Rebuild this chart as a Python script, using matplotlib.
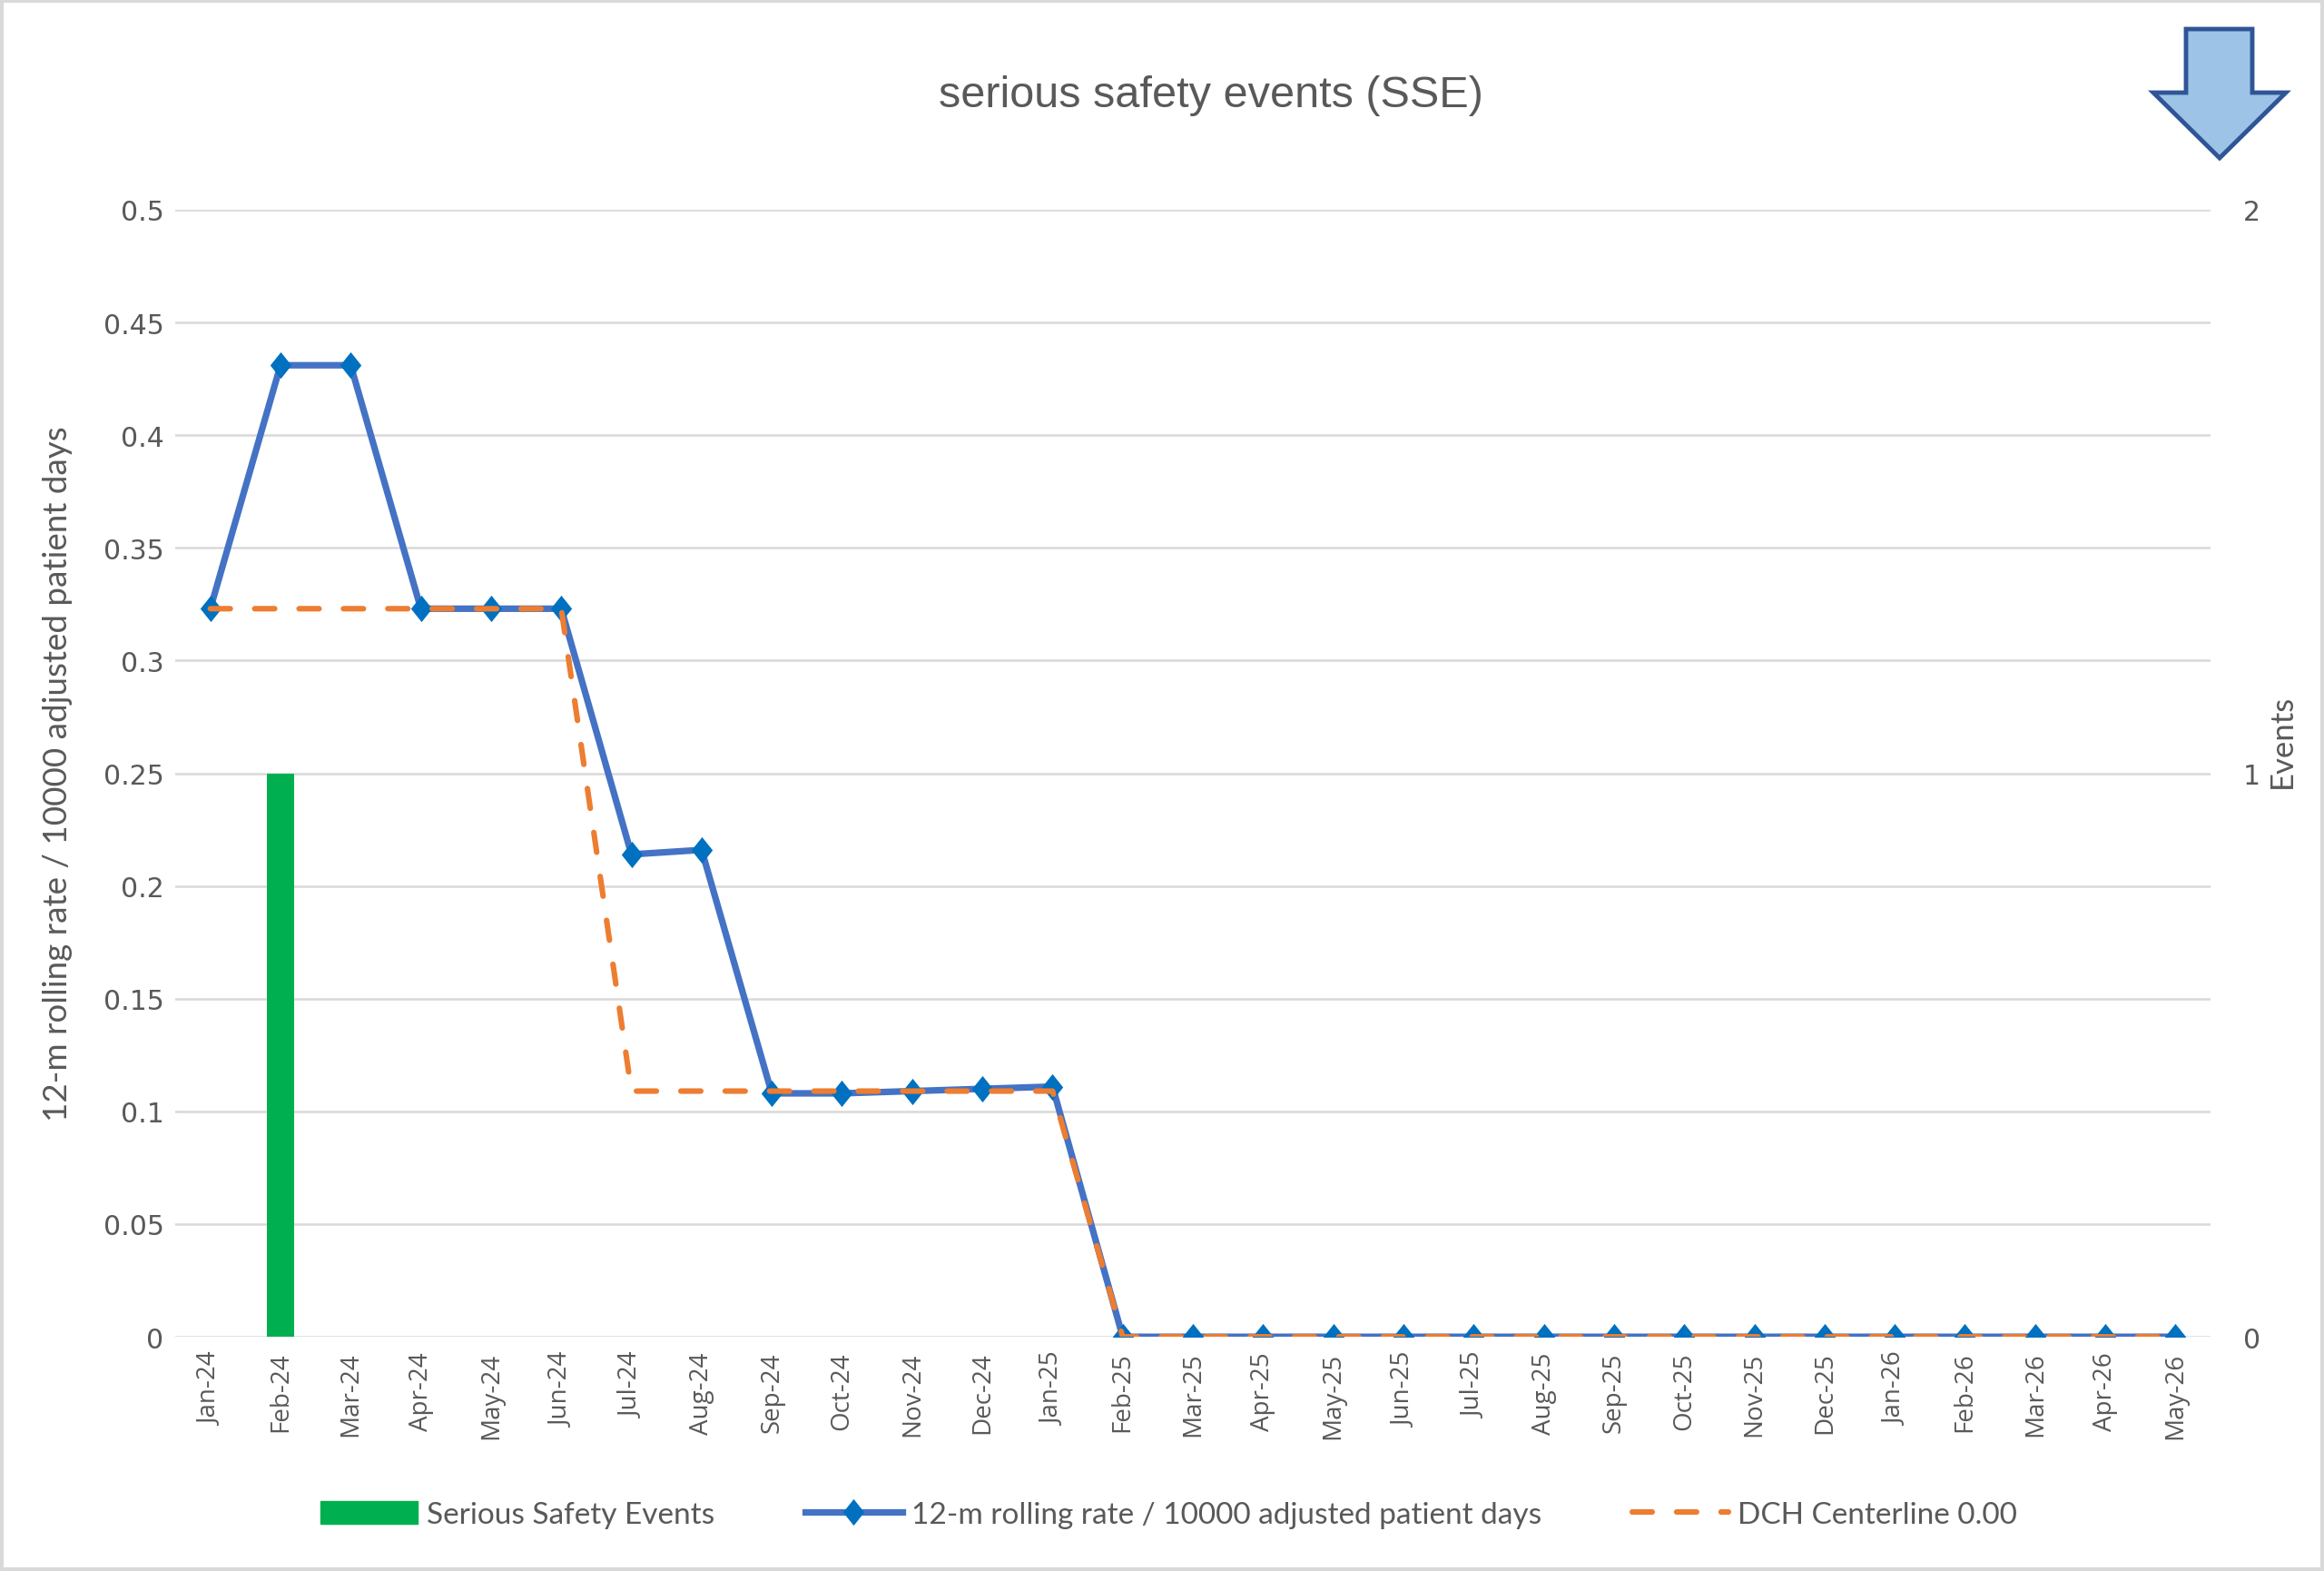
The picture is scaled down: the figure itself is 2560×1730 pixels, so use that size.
import matplotlib
matplotlib.use("Agg")
import matplotlib.pyplot as plt
from matplotlib.patches import Polygon, Rectangle
from matplotlib.lines import Line2D
from matplotlib.patches import Patch

months = ["Jan-24", "Feb-24", "Mar-24", "Apr-24", "May-24", "Jun-24", "Jul-24", "Aug-24",
          "Sep-24", "Oct-24", "Nov-24", "Dec-24", "Jan-25", "Feb-25", "Mar-25", "Apr-25",
          "May-25", "Jun-25", "Jul-25", "Aug-25", "Sep-25", "Oct-25", "Nov-25", "Dec-25",
          "Jan-26", "Feb-26", "Mar-26", "Apr-26", "May-26"]
events = [0, 1, 0, 0, 0, 0, 0, 0, 0, 0, 0, 0, 0, 0, 0, 0, 0, 0, 0, 0, 0, 0, 0, 0, 0, 0, 0, 0, 0]
rate = [0.323, 0.431, 0.431, 0.323, 0.323, 0.323, 0.214, 0.216, 0.108, 0.108, 0.109, 0.110,
        0.111, 0, 0, 0, 0, 0, 0, 0, 0, 0, 0, 0, 0, 0, 0, 0, 0]
centerline = [0.323, 0.323, 0.323, 0.323, 0.323, 0.323, 0.109, 0.109, 0.109, 0.109, 0.109, 0.109,
              0.109, 0, 0, 0, 0, 0, 0, 0, 0, 0, 0, 0, 0, 0, 0, 0, 0]
left_ticks = [0, 0.05, 0.1, 0.15, 0.2, 0.25, 0.3, 0.35, 0.4, 0.45, 0.5]
left_tick_labels = ["0", "0.05", "0.1", "0.15", "0.2", "0.25", "0.3", "0.35", "0.4", "0.45", "0.5"]
right_ticks = [0, 1, 2]

title = "serious safety events (SSE)"
ylabel_left = "12-m rolling rate / 10000 adjusted patient days"
ylabel_right = "Events"
legend_labels = ["Serious Safety Events", "12-m rolling rate / 10000 adjusted patient days",
                 "DCH Centerline 0.00"]

GREY = "#595959"
GRID = "#D9D9D9"
BLUE = "#4472C4"
MARK = "#0070C0"
ORANGE = "#ED7D31"
GREEN = "#00B050"

plt.rcParams["font.family"] = ["Lato", "DejaVu Sans"]

DIAMOND = [(0, 1), (0.8, 0), (0, -1), (-0.8, 0), (0, 1)]
LINE_KW = dict(color=BLUE, lw=5.2, marker=DIAMOND, markersize=21, markeredgewidth=0,
               markerfacecolor=MARK, markeredgecolor=MARK)
DASH_KW = dict(color=ORANGE, lw=4.4, linestyle=(0, (3.6, 4.4)), dash_capstyle="round")

fig = plt.figure(figsize=(25.6, 17.31), dpi=100)
ax = fig.add_axes([0.0754, 0.149, 0.8758, 0.717])
ax2 = ax.twinx()

x = list(range(len(months)))

# grid + lines on primary axis
ax.grid(axis="y", color=GRID, lw=1.8, zorder=0)
ax.set_axisbelow(True)
ax.plot(x, rate, zorder=3, solid_joinstyle="round", **LINE_KW)
ax.plot(x, centerline, zorder=4, **DASH_KW)

ax.set_xlim(-0.5, len(months) - 0.5)
ax.set_ylim(0, 0.5)
ax.set_yticks(left_ticks)
ax.set_yticklabels(left_tick_labels, fontsize=21.5, color=GREY, family=["DejaVu Sans"])
ax.set_xticks(x)
ax.set_xticklabels(months, rotation=90, fontsize=20, color=GREY, family=["Open Sans"])
ax.tick_params(axis="both", length=0)
ax.tick_params(axis="y", pad=9)
ax.tick_params(axis="x", pad=12)
ax.set_ylabel(ylabel_left, fontsize=26.5, color=GREY, labelpad=24)

# bars on secondary axis (above the grid)
ax2.bar(x, events, width=0.4, color=GREEN, zorder=2)
ax2.set_ylim(0, 2)
ax2.set_yticks(right_ticks)
ax2.set_yticklabels([str(t) for t in right_ticks], fontsize=21.5, color=GREY,
                    family=["DejaVu Sans"])
ax2.tick_params(axis="y", length=0, pad=26)
ax2.set_ylabel(ylabel_right, fontsize=25, color=GREY)
ax2.yaxis.set_label_coords(1.035, 0.529)
ax2.yaxis.label.set_va("center")
ax2.yaxis.label.set_ha("center")

for a in (ax, ax2):
    for s in a.spines.values():
        s.set_visible(False)

fig.text(0.521, 0.939, title, fontsize=35, color=GREY, ha="center", va="center",
         family=["Liberation Sans"])

# legend
handles = [
    Patch(facecolor=GREEN, edgecolor=GREEN),
    Line2D([0], [0], **LINE_KW),
    Line2D([0], [0], **DASH_KW),
]
fig.legend(handles, legend_labels, loc="center", bbox_to_anchor=(0.503, 0.036), ncol=3,
           frameon=False, fontsize=24, labelcolor=GREY, handlelength=3.2,
           handleheight=0.8, handletextpad=0.3, columnspacing=3.0)

# decorative down arrow (top right)
arrow = [(2408, 33), (2481, 33), (2481, 103), (2518, 103), (2445, 175),
         (2372, 103), (2408, 103)]
arrow_fig = [(px / 2560, 1 - py / 1731) for px, py in arrow]
fig.patches.append(Polygon(arrow_fig, closed=True, transform=fig.transFigure,
                           facecolor="#9DC3E6", edgecolor="#2F5597", lw=3.5,
                           joinstyle="miter"))

# figure border
fig.patches.append(Rectangle((0.0008, 0.0012), 0.9984, 0.9976, transform=fig.transFigure,
                             fill=False, edgecolor=GRID, lw=3))

fig.savefig("out.png", dpi=100, facecolor="white")
